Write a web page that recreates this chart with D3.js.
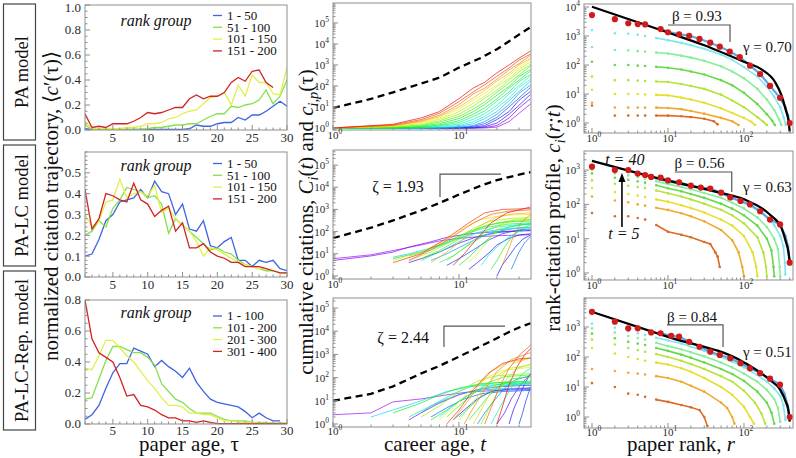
<!DOCTYPE html>
<html><head><meta charset="utf-8">
<script src="https://cdn.jsdelivr.net/npm/d3@7/dist/d3.min.js"></script>
<style>
body{margin:0;background:#fff;}
svg{display:block;background:#fff;}
text{font-family:"Liberation Serif","Times New Roman",Times,serif;}
</style></head><body>
<script>
// ================= DATA =================
// ---- left column: normalized citation trajectory vs paper age ----
const tau = [1,2,3,4,5,6,7,8,9,10,11,12,13,14,15,16,17,18,19,20,21,22,23,24,25,26,27,28,29,30];
const leftXTicks = [5,10,15,20,25,30];
const leftYTicks1 = [0,0.2,0.4,0.6,0.8,1.0];
const leftYTicks2 = [0,0.1,0.2,0.3,0.4,0.5];
const leftYTicks3 = [0,0.2,0.4,0.6,0.8];

const legendPA  = ["1 - 50","51 - 100","101 - 150","151 - 200"];
const legendLC  = ["1 - 50","51 - 100","101 - 150","151 - 200"];
const legendRep = ["1 - 100","101 - 200","201 - 300","301 - 400"];

const paBlue   = [0.01,0.005,0.005,0.005,0.005,0.005,0.005,0.005,0.005,0.005,0.005,0.005,0.005,0.005,0.005,0.01,0.04,0.03,0.03,0.05,0.06,0.06,0.10,0.08,0.12,0.12,0.15,0.19,0.23,0.19];
const paGreen  = [0.04,0.005,0.005,0.005,0.005,0.005,0.005,0.005,0.005,0.01,0.02,0.02,0.03,0.04,0.04,0.05,0.05,0.08,0.11,0.13,0.13,0.19,0.18,0.20,0.21,0.24,0.32,0.21,0.27,0.40];
const paYellow = [0.07,0.01,0.01,0.01,0.01,0.01,0.02,0.02,0.03,0.05,0.05,0.06,0.09,0.10,0.13,0.15,0.16,0.21,0.26,0.27,0.30,0.20,0.36,0.27,0.44,0.38,0.38,0.29,0.28,0.50];
const paRed    = [0.13,0.02,0.03,0.02,0.05,0.05,0.05,0.07,0.10,0.14,0.13,0.14,0.16,0.18,0.18,0.25,0.28,0.25,0.27,0.27,0.30,0.38,0.42,0.39,0.47,0.48,0.38,0.34];

const lcBlue   = [0.10,0.11,0.18,0.27,0.30,0.36,0.37,0.38,0.42,0.38,0.46,0.41,0.40,0.30,0.35,0.23,0.22,0.27,0.15,0.14,0.17,0.19,0.08,0.08,0.05,0.08,0.07,0.08,0.04,0.03];
const lcGreen  = [0.20,0.22,0.27,0.24,0.33,0.37,0.43,0.42,0.41,0.38,0.39,0.35,0.21,0.28,0.25,0.22,0.19,0.16,0.13,0.14,0.12,0.11,0.08,0.06,0.05,0.04,0.03,0.03,0.02,0.02];
const lcYellow = [0.30,0.24,0.27,0.36,0.37,0.47,0.38,0.40,0.41,0.39,0.44,0.31,0.33,0.28,0.25,0.22,0.17,0.10,0.14,0.13,0.11,0.09,0.07,0.06,0.05,0.04,0.04,0.03,0.02,0.02];
const lcRed    = [0.42,0.23,0.28,0.40,0.39,0.37,0.36,0.45,0.37,0.35,0.29,0.32,0.34,0.22,0.26,0.14,0.14,0.16,0.12,0.10,0.09,0.07,0.07,0.05,0.05,0.05,0.04,0.03,0.02,0.02];

const repBlue   = [0.03,0.06,0.12,0.23,0.33,0.39,0.39,0.49,0.47,0.45,0.37,0.41,0.37,0.34,0.30,0.36,0.27,0.21,0.16,0.14,0.13,0.12,0.11,0.08,0.04,0.07,0.04,0.02,0.02];
const repGreen  = [0.16,0.17,0.29,0.41,0.50,0.50,0.48,0.46,0.46,0.43,0.38,0.26,0.21,0.16,0.14,0.10,0.07,0.07,0.07,0.05,0.03,0.02,0.02,0.02,0.01,0.01,0.01,0.005,0.005,0.005];
const repYellow = [0.36,0.35,0.44,0.54,0.54,0.49,0.44,0.40,0.34,0.28,0.23,0.17,0.12,0.12,0.11,0.07,0.07,0.06,0.06,0.04,0.02,0.02,0.01,0.01,0.01,0.005,0.005,0.005,0.005,0.005];
const repRed    = [0.80,0.55,0.46,0.43,0.40,0.30,0.18,0.19,0.12,0.11,0.09,0.06,0.04,0.04,0.02,0.02,0.01,0.02,0.01,0.003,0.003,0.003,0.003,0.003,0.003,0.003,0.003,0.003,0.003,0.003];

// ---- middle column: cumulative citations vs career age ----
const midXTicks = [1,10];
const midYExp1 = [0,1,2,3,4,5];
const careerT = [1,2,3,5,7,10,15,20,25,30,37];
const paMean  = [9,24,50,130,250,750,2200,5600,13500,28000,63000];
const lcMean  = [51,150,320,900,1950,4700,12000,21000,29000,37000,48000];
const repMean = [10,20,42,150,320,800,2300,5000,9300,14500,22000];

// PA model trajectories c_{i,p}(t) sampled at these career ages
const paTrajT = [1,3,5,7,10,13,16,20,25,30,37];
const paTraj = [
 [1,1,1,1,1,1,1,1.1,2,5,14],
 [1,1,1,1,1,1,1.05,1.3,3,9,25],
 [1,1,1,1,1,1,1.15,1.7,4.5,12,40],
 [1,1,1,1,1,1.1,1.3,2.5,6,21,55],
 [1,1,1,1,1,1.2,1.6,3.2,10,27,85],
 [1,1,1,1,1.1,1.3,2,4.5,13,45,110],
 [1,1,1,1,1.2,1.6,2.8,6,20,55,170],
 [1,1,1,1.1,1.3,2,3.5,9,26,85,210],
 [1,1,1,1.2,1.5,2.6,4.8,12,42,105,300],
 [1,1,1.1,1.3,1.8,3.5,6.5,19,52,160,360],
 [1,1,1.1,1.4,2.2,4.5,9,24,80,190,520],
 [1,1,1.2,1.6,2.8,6,13,36,95,280,620],
 [1,1.1,1.3,1.9,3.5,8,17,50,140,330,900],
 [1,1.1,1.4,2.2,4.5,11,26,62,190,470,1050],
 [1,1.2,1.6,2.6,6,15,32,95,230,600,1450],
 [1,1.2,1.8,3,8,21,45,115,330,720,1900],
 [1,1.3,2,3.5,10,27,62,170,400,1000,2100],
 [1,1.3,2.2,4,13,42,78,210,580,1150,2900],
 [1,1.4,2.5,5,18,52,115,290,720,1700,3300],
 [1,1.5,3,6,25,80,150,420,1000,2100,4600]
];
// PA-LC model trajectories: [career age, citations]
const lcTraj = [
 [[1,6],[2,9],[3,14],[5,25],[7,38],[10,50],[15,60],[20,65],[30,70],[37,72]],
 [[1,5],[2,8],[3,12],[4,20],[6,35],[8,55],[12,80],[20,100],[37,110]],
 [[4,4],[5,6],[7,12],[10,30],[14,60],[20,90],[30,110],[37,115]],
 [[12,2],[14,4],[17,10],[20,25],[25,50],[30,70],[37,80]],
 [[20,1],[22,3],[25,8],[28,20],[32,45],[37,70]],
 [[8,3],[10,6],[13,15],[17,40],[22,80],[30,120],[37,130]],
 [[26,2],[28,5],[30,12],[33,30],[37,60]],
 [[6,5],[8,10],[11,25],[15,60],[20,100],[28,140],[37,150]],
 [[3,7],[4,10],[6,18],[9,40],[13,80],[20,120],[30,150],[37,160]],
 [[15,3],[17,8],[20,20],[24,50],[30,100],[37,130]],
 [[5,5],[7,12],[10,35],[14,90],[20,160],[30,210],[37,220]],
 [[7,4],[9,8],[12,25],[16,70],[22,140],[30,200],[37,220]],
 [[4,8],[6,15],[9,40],[12,90],[17,160],[25,220],[37,250]],
 [[10,3],[12,7],[15,25],[19,80],[25,160],[37,230]],
 [[3,6],[5,12],[8,35],[12,100],[17,200],[25,280],[37,300]],
 [[18,2],[20,5],[23,20],[27,70],[32,150],[37,200]],
 [[5,6],[7,14],[10,45],[14,130],[20,250],[28,330],[37,350]],
 [[8,5],[10,12],[13,40],[17,120],[23,250],[37,350]],
 [[4,5],[6,12],[9,40],[13,140],[18,300],[26,400],[37,420]],
 [[12,4],[14,10],[17,40],[21,150],[27,350],[37,450]],
 [[3,5],[5,12],[8,45],[11,150],[15,350],[22,550],[37,600]],
 [[6,4],[8,12],[11,50],[15,200],[20,450],[28,650],[37,700]],
 [[22,3],[24,10],[27,60],[31,250],[37,600]],
 [[4,5],[6,15],[9,60],[13,250],[18,600],[25,850],[37,950]],
 [[3,4],[5,10],[8,50],[12,250],[16,700],[22,1000],[37,1100]],
 [[9,3],[11,10],[14,50],[18,250],[24,700],[37,1300]]
];
// PA-LC-Rep. model trajectories: [career age, citations]
const repTraj = [
 [[1,2.5],[2,3],[3,9],[5,12],[8,18],[12,24],[20,28],[30,30],[37,31]],
 [[4,1.5],[5,3],[7,8],[10,18],[14,30],[20,40],[30,45],[37,46]],
 [[20,1],[23,3],[26,12],[30,40],[34,90],[37,140]],
 [[25,1],[27,4],[30,15],[33,50],[37,150]],
 [[9,1.5],[11,4],[14,12],[18,25],[25,32],[37,35]],
 [[30,1],[32,3],[34,10],[37,40]],
 [[6,2],[8,5],[11,12],[15,20],[22,25],[37,28]],
 [[14,1],[16,3],[19,10],[23,35],[28,80],[37,120]],
 [[5,3],[6,6],[8,12],[11,22],[16,30],[25,34],[37,36]],
 [[2,2],[3,4],[5,10],[8,25],[12,40],[20,50],[37,55]],
 [[7,2],[9,6],[12,18],[16,35],[22,45],[37,50]],
 [[18,1],[20,3],[23,12],[27,50],[32,150],[37,250]],
 [[4,2],[6,6],[9,20],[13,45],[20,60],[37,65]],
 [[10,2],[12,5],[15,15],[19,35],[26,50],[37,55]],
 [[6,1.5],[8,4],[11,14],[15,35],[22,55],[37,60]],
 [[3,3],[5,8],[7,18],[10,35],[15,55],[25,65],[37,70]],
 [[12,1.5],[14,4],[17,15],[21,45],[27,90],[37,110]],
 [[8,2],[10,6],[13,20],[17,60],[23,110],[37,130]],
 [[15,1],[17,4],[20,20],[24,90],[29,250],[37,380]],
 [[5,2],[7,6],[10,25],[14,70],[20,120],[37,150]],
 [[10,1.5],[12,5],[15,25],[19,100],[25,250],[37,350]],
 [[7,1.5],[9,5],[12,25],[16,90],[22,200],[37,280]],
 [[13,1],[15,4],[18,25],[22,130],[27,400],[37,700]],
 [[9,1.5],[11,6],[14,40],[18,180],[24,450],[37,700]],
 [[11,1],[13,5],[16,30],[20,180],[26,600],[37,1200]],
 [[16,1],[18,5],[21,40],[25,250],[30,900],[37,2500]],
 [[8,1],[10,4],[13,30],[17,150],[22,400],[30,650],[37,700]],
 [[20,1],[22,5],[25,50],[29,300],[33,900],[37,1800]]
];

// ---- right column: rank-citation profiles c_i(r;t), t = 5,10,...,40 ----
const rightXTicks = [1,10,100];
const profileT = [5,10,15,20,25,30,35,40];
// PA model
const paT5  = [[1,4],[2,1.8],[3,1.8],[4,1.8],[5,1.8],[7,1.8],[10,1.8],[15,1.7],[20,1.6],[30,1.4],[40,1.15],[45,0.9]];
const paT10 = [[1,5],[2,3.4],[3,3.4],[4,3.4],[5,3.4],[7,3.4],[10,3.3],[15,3],[20,2.6],[30,2.1],[50,1.5],[70,1.15],[85,0.85]];
const paT15 = [[1,14],[2,10],[3,10],[4,10],[5,9.6],[7,9.3],[10,9],[15,7.5],[20,6.5],[30,5],[50,3.2],[70,2.2],[100,1.5],[125,1.1],[140,0.85]];
const paT20 = [[1,40],[2,30],[3,30],[4,29],[5,28],[7,27],[10,26],[15,22],[20,19],[30,15],[50,9.5],[70,6],[100,3.5],[150,1.6],[180,1.1],[200,0.85]];
const paT25 = [[1,130],[2,100],[3,100],[4,95],[5,92],[7,87],[10,80],[15,70],[20,60],[30,47],[50,30],[70,20],[100,11],[150,4.5],[200,2],[235,1.2],[255,0.85]];
const paT30 = [[1,420],[2,330],[3,320],[4,300],[5,290],[7,270],[10,250],[15,210],[20,180],[30,140],[50,90],[70,60],[100,35],[150,15],[200,6.5],[250,2.8],[290,1.3],[310,0.85]];
const paT35 = [[1,1600],[2,1250],[3,1200],[4,1100],[5,1000],[7,850],[10,720],[15,580],[20,480],[30,360],[50,230],[70,150],[100,85],[150,40],[200,18],[250,8],[300,3.5],[335,1.5],[355,0.85]];
const paT40 = [[1,5300],[2,3800],[3,2750],[4,2570],[5,2510],[8,1740],[10,1400],[14,1150],[19,1020],[26,800],[36,590],[48,430],[65,290],[88,186],[120,95],[163,49],[220,19],[298,7.4],[350,3.5],[380,1.8],[400,0.9]];
const paDotR = [1,2,3,4,5,8,10,14,19,26,36,48,65,88,120,163,220,298,400];
const paDotC = [5250,3800,2750,2570,2510,1740,1350,1150,1020,795,590,427,288,186,95,49,19,7.4,1];
const paFitR = [1,10,30,100,174,256,310,355,385,400];
const paFitC = [10200,1320,480,129,68,26,9.3,2.8,1.2,0.5];
// PA-LC model
const lcT5  = [[1,56],[2,45],[3,45],[4,40],[5,36],[7,25],[10,16],[15,13],[20,11],[30,8],[36,7],[42,4],[45,3],[48,1.5]];
const lcT10 = [[1,170],[2,130],[3,115],[4,100],[5,92],[7,80],[10,69],[15,55],[20,45],[30,32],[50,18],[70,9],[85,4],[95,1.5],[100,0.8]];
const lcT15 = [[1,300],[2,230],[3,200],[4,180],[5,165],[7,140],[10,120],[15,95],[20,78],[30,58],[50,36],[70,24],[100,12],[130,4],[145,1.5],[150,0.8]];
const lcT20 = [[1,500],[2,400],[3,350],[4,320],[5,300],[7,255],[10,210],[15,170],[20,140],[30,105],[50,70],[70,48],[100,28],[150,11],[180,4],[195,1.5],[200,0.8]];
const lcT25 = [[1,800],[2,600],[3,520],[4,470],[5,430],[7,360],[10,295],[15,240],[20,200],[30,155],[50,105],[70,75],[100,48],[150,24],[200,10],[230,4.5],[245,1.5],[250,0.8]];
const lcT30 = [[1,1000],[2,800],[3,700],[4,620],[5,560],[7,470],[10,390],[15,320],[20,275],[30,215],[50,155],[70,112],[100,76],[150,42],[200,22],[250,10],[280,5],[295,1.5],[300,0.8]];
const lcT35 = [[1,1150],[2,950],[3,880],[4,760],[5,680],[7,560],[10,440],[15,390],[20,330],[30,275],[50,205],[70,155],[100,110],[150,68],[200,42],[250,25],[300,12],[330,6],[345,2],[350,0.9]];
const lcT40 = [[1,1260],[2,1000],[3,1000],[4,790],[5,720],[6,630],[8,600],[10,500],[14,440],[20,350],[27,310],[36,290],[50,220],[66,160],[90,126],[120,100],[163,63],[220,36],[298,26],[350,12],[380,6],[400,2]];
const lcDotR = [1,2,3,4,5,6,8,10,14,20,27,36,50,66,90,120,163,220,298,400];
const lcDotC = [1260,1000,1000,790,720,630,600,500,440,350,310,290,220,160,126,100,63,36,26,2];
const lcFitR = [1,10,50,100,220,310,355,385,400];
const lcFitC = [1860,490,215,141,50,21,8.3,4,2];
// PA-LC-Rep. model
const repT5  = [[1,13.5],[2,10],[3,6],[4,5.5],[5,4.7],[7,3.8],[10,3.2],[15,2.5],[20,2.1],[26,1.7],[30,1],[33,0.5]];
const repT10 = [[1,40],[2,34],[3,30],[4,28],[5,26],[7,23],[10,20],[15,15],[20,11],[30,7],[50,3],[60,2],[70,1],[75,0.6]];
const repT15 = [[1,200],[2,130],[3,100],[4,85],[5,75],[7,65],[10,56],[15,42],[20,32],[30,20],[50,10],[70,5.5],[100,2.2],[120,1],[135,0.6]];
const repT20 = [[1,380],[2,260],[3,200],[4,170],[5,150],[7,125],[10,100],[15,75],[20,58],[30,40],[50,23],[70,15],[100,7.5],[140,3],[170,1.3],[190,0.6]];
const repT25 = [[1,600],[2,420],[3,320],[4,280],[5,250],[7,200],[10,160],[15,120],[20,95],[30,66],[50,40],[70,27],[100,16],[150,7],[200,3],[230,1.4],[250,0.6]];
const repT30 = [[1,900],[2,650],[3,500],[4,430],[5,380],[7,300],[10,230],[15,180],[20,145],[30,105],[50,65],[70,45],[100,28],[150,15],[200,8],[250,4],[280,2],[300,0.7]];
const repT35 = [[1,1300],[2,950],[3,720],[4,620],[5,540],[7,440],[10,355],[15,280],[20,220],[30,160],[50,100],[70,70],[100,45],[150,25],[200,15],[250,9],[300,5],[330,2.5],[350,0.8]];
const repT40 = [[1,3200],[2,1500],[3,900],[4,900],[6,660],[8,620],[11,510],[14,480],[19,320],[26,220],[36,150],[48,117],[66,91],[90,62],[120,42],[163,29],[220,19],[298,12],[340,6],[375,2.5],[400,0.9]];
const repDotR = [1,2,3,4,6,8,11,14,19,26,36,48,66,90,120,163,220,298,400];
const repDotC = [3200,1500,900,900,660,620,510,480,320,220,150,117,91,62,42,29,19,12,1];
const repFitR = [1,10,100,220,300,355,385,400];
const repFitC = [3200,470,66,17,8,3.2,1.6,0.7];

// ================= DRAWING =================
const svg = d3.select("body").append("svg").attr("width",796).attr("height",458);
const FRAME = "#8f8f8f", LBL = "#2b2b2b";
let clipN = 0;
function clipRect(x0,y0,x1,y1){
  const id = "clip"+(clipN++);
  svg.append("clipPath").attr("id",id).append("rect").attr("x",x0).attr("y",y0).attr("width",x1-x0).attr("height",y1-y0);
  return "url(#"+id+")";
}
function drawFrame(x0,y0,x1,y1){
  svg.append("rect").attr("x",x0).attr("y",y0).attr("width",x1-x0).attr("height",y1-y0)
    .attr("fill","none").attr("stroke",FRAME).attr("stroke-width",1);
}
function tick(x1,y1,x2,y2){
  svg.append("line").attr("x1",x1).attr("y1",y1).attr("x2",x2).attr("y2",y2).attr("stroke",FRAME).attr("stroke-width",1);
}
function rich(sel, parts, size){
  let down = false;
  parts.forEach(([s,st])=>{
    const ts = sel.append("tspan").text(s);
    st = st||"";
    if (st.includes("i")) ts.attr("font-style","italic");
    if (st.includes("s")) { ts.attr("font-size", size*0.68); if(!down){ts.attr("dy", size*0.22); down=true;} }
    else if (down) { ts.attr("dy", -size*0.22); down=false; }
  });
}
function powLabel(x,y,exp,anchor,size){
  const t = svg.append("text").attr("x",x).attr("y",y).attr("text-anchor",anchor)
    .attr("font-size",size).attr("fill",LBL);
  t.append("tspan").text("10");
  t.append("tspan").attr("dy",-size*0.42).attr("font-size",size*0.68).text(exp);
}
function logMinor(dom){
  const out=[]; const lo=Math.floor(Math.log10(dom[0])), hi=Math.ceil(Math.log10(dom[1]));
  for(let d=lo; d<=hi; d++) for(let k=1;k<=9;k++){ const v=k*Math.pow(10,d); if(v>=dom[0]&&v<=dom[1]) out.push({v, major:k===1}); }
  return out;
}

// ---------- row labels ----------
const rowBoxes = [[4,140,"PA model"],[145,266,"PA-LC model"],[271,430,"PA-LC-Rep. model"]];
rowBoxes.forEach(([a,b,lab])=>{
  svg.append("rect").attr("x",3.5).attr("y",a).attr("width",32).attr("height",b-a).attr("fill","none").attr("stroke","#444").attr("stroke-width",1.2);
  svg.append("text").attr("transform",`translate(28,${(a+b)/2}) rotate(-90)`).attr("text-anchor","middle")
    .attr("font-size",18.5).attr("fill","#111").text(lab);
});

// ---------- left column ----------
const groupColors = ["#3f63e2","#86e04e","#e3ef48","#d42121"];
const leftCfg = [
  {y0:5,  y1:130, ymax:1.0, yt:leftYTicks1, minor:0.05, series:[paBlue,paGreen,paYellow,paRed], legend:legendPA, legY:15.5, titleY:26, xl:12},
  {y0:152,y1:277, ymax:0.6, yt:leftYTicks2, minor:0.02, series:[lcBlue,lcGreen,lcYellow,lcRed], legend:legendLC, legY:163.5, titleY:171, xl:12},
  {y0:300,y1:424, ymax:0.8, yt:leftYTicks3, minor:0.05, series:[repBlue,repGreen,repYellow,repRed], legend:legendRep, legY:316, titleY:318, xl:11}
];
leftCfg.forEach(c=>{
  const x = d3.scaleLinear().domain([1,30]).range([85,287]);
  const y = d3.scaleLinear().domain([0,c.ymax]).range([c.y1,c.y0]);
  const g = svg.append("g").attr("clip-path", clipRect(85,c.y0,287,c.y1+1));
  const line = d3.line().x((d,i)=>x(tau[i])).y(d=>y(d));
  c.series.forEach((s,k)=>{
    g.append("path").attr("d",line(s)).attr("fill","none").attr("stroke",groupColors[k]).attr("stroke-width",1.3);
  });
  drawFrame(85,c.y0,287,c.y1);
  tau.forEach(v=>{ const big = leftXTicks.includes(v); tick(x(v),c.y1,x(v),c.y1-(big?5:2.5)); });
  leftXTicks.forEach(v=>{
    svg.append("text").attr("x",x(v)).attr("y",c.y1+c.xl).attr("text-anchor","middle").attr("font-size",13).attr("fill",LBL).text(v);
  });
  d3.range(0,c.ymax+1e-9,c.minor).forEach(v=>{
    const big = c.yt.some(t=>Math.abs(t-v)<1e-9);
    tick(85,y(v),85+(big?5:2.5),y(v));
  });
  c.yt.forEach(v=>{
    svg.append("text").attr("x",81).attr("y",Math.max(y(v)+4.4,12)).attr("text-anchor","end").attr("font-size",13).attr("fill",LBL).text(d3.format(".1f")(v));
  });
  // legend
  svg.append("text").attr("x",156).attr("y",c.titleY).attr("text-anchor","middle").attr("font-size",16)
    .attr("font-style","italic").attr("fill","#111").text("rank group");
  c.legend.forEach((lab,k)=>{
    const yy = c.legY + k*11.8;
    svg.append("line").attr("x1",213).attr("x2",222).attr("y1",yy).attr("y2",yy).attr("stroke",groupColors[k]).attr("stroke-width",1.3);
    svg.append("text").attr("x",227).attr("y",yy+4.3).attr("font-size",13).attr("fill","#111").text(lab);
  });
});

// ---------- middle column ----------
function trajColor(i,n){ return d3.hsl(280*(1-i/(n-1)), 0.88, 0.5).toString(); }
const midCfg = [
  {y0:3,  y1:130, ydom:[0.80,8.9e5], mean:paMean, traj:paTraj.map(row=>row.map((v,i)=>[paTrajT[i],v])), xl:8.5},
  {y0:150,y1:279, ydom:[0.73,4.8e5], mean:lcMean, traj:lcTraj, zeta:"ζ = 1.93", zt:[3.28,6000], br:[7.07,3600,39000,21.5], xl:8.5},
  {y0:298,y1:427, ydom:[0.74,2.7e5], mean:repMean, traj:repTraj, zeta:"ζ = 2.44", zt:[3.6,3100], br:[7.6,2100,16700,23.2], xl:7.5}
];
midCfg.forEach(c=>{
  const x = d3.scaleLog().domain([1,37.3]).range([333,531]);
  const y = d3.scaleLog().domain(c.ydom).range([c.y1,c.y0]);
  const g = svg.append("g").attr("clip-path", clipRect(333,c.y0,531,c.y1));
  const line = d3.line().x(d=>x(d[0])).y(d=>y(d[1]));
  const n = c.traj.length;
  c.traj.forEach((tr,i)=>{
    g.append("path").attr("d",line(tr)).attr("fill","none").attr("stroke",trajColor(i,n)).attr("stroke-width",0.75).attr("stroke-opacity",0.95);
  });
  g.append("path").attr("d",line(careerT.map((t,i)=>[t,c.mean[i]]))).attr("fill","none")
    .attr("stroke","#000").attr("stroke-width",2.3).attr("stroke-dasharray","7,4.5");
  drawFrame(333,c.y0,531,c.y1);
  logMinor([1,37.3]).forEach(o=>tick(x(o.v),c.y1,x(o.v),c.y1-(o.major?5:2.5)));
  logMinor(c.ydom).forEach(o=>tick(333,y(o.v),333+(o.major?5:2.5),y(o.v)));
  midXTicks.forEach((v,k)=>powLabel(x(v)-5.5,c.y1+c.xl,String(k),"start",11));
  midYExp1.forEach(e=>{ const v=Math.pow(10,e); if(v>=c.ydom[0]&&v<=c.ydom[1]) powLabel(329,y(v)+4,String(e),"end",11); });
  if (c.zeta){
    svg.append("text").attr("x",x(c.zt[0])).attr("y",y(c.zt[1])).attr("text-anchor","middle").attr("font-size",16).attr("fill","#111").text(c.zeta);
    svg.append("path").attr("d",`M${x(c.br[0])},${y(c.br[1])}V${y(c.br[2])}H${x(c.br[3])}`).attr("fill","none").attr("stroke","#555").attr("stroke-width",1.2);
  }
});

// ---------- right column ----------
const profColors = ["#dc6a24","#f0a92e","#e6de2c","#b6e23a","#66d84a","#86ee9a","#7de6ee","#5ea6e4"];
const rightCfg = [
  {y0:4,  y1:133, ydom:[0.452,12700], exps:[0,1,2,3,4], prof:[paT5,paT10,paT15,paT20,paT25,paT30,paT35,paT40], dr:paDotR, dc:paDotC, fr:paFitR, fc:paFitC,
   beta:"β = 0.93", bt:[24,3300], br:[10,65.5,2400,620], gamma:"γ = 0.70", gt:[97,280], xl:8.5},
  {y0:151,y1:280, ydom:[0.625,3600], exps:[0,1,2,3], prof:[lcT5,lcT10,lcT15,lcT20,lcT25,lcT30,lcT35,lcT40], dr:lcDotR, dc:lcDotC, fr:lcFitR, fc:lcFitC,
   beta:"β = 0.56", bt:[26,1150], br:[12.3,69,880,230], gamma:"γ = 0.63", gt:[97,230], arrow:true, xl:8.5},
  {y0:298,y1:428, ydom:[0.43,9260], exps:[0,1,2,3], prof:[repT5,repT10,repT15,repT20,repT25,repT30,repT35,repT40], dr:repDotR, dc:repDotC, fr:repFitR, fc:repFitC,
   beta:"β = 0.84", bt:[20.7,1470], br:[9.7,53,1170,215], gamma:"γ = 0.51", gt:[97,100], xl:7.5}
];
rightCfg.forEach(c=>{
  const x = d3.scaleLog().domain([0.785,441.6]).range([584,793]);
  const y = d3.scaleLog().domain(c.ydom).range([c.y1,c.y0]);
  const g = svg.append("g").attr("clip-path", clipRect(584,c.y0,793,c.y1));
  const line = d3.line().x(d=>x(d[0])).y(d=>y(d[1]));
  c.prof.forEach((pts,k)=>{
    g.append("path").attr("d",line(pts.filter(p=>p[0]>=7))).attr("fill","none").attr("stroke",profColors[k]).attr("stroke-width",k===7?2.2:1.6);
    g.selectAll(null).data(pts).enter().append("circle").attr("cx",d=>x(d[0])).attr("cy",d=>y(d[1])).attr("r",1.3).attr("fill",profColors[k]);
  });
  g.append("path").attr("d",d3.line().curve(d3.curveMonotoneX).x(d=>x(d[0])).y(d=>y(d[1]))(c.fr.map((r,i)=>[r,c.fc[i]])))
    .attr("fill","none").attr("stroke","#000").attr("stroke-width",2.3);
  g.selectAll(null).data(c.dr.map((r,i)=>[r,c.dc[i]])).enter().append("circle")
    .attr("cx",d=>x(d[0])).attr("cy",d=>y(d[1])).attr("r",3.1).attr("fill","#d21a1a");
  drawFrame(584,c.y0,793,c.y1);
  logMinor([0.785,441.6]).forEach(o=>tick(x(o.v),c.y1,x(o.v),c.y1-(o.major?5:2.5)));
  logMinor(c.ydom).forEach(o=>tick(584,y(o.v),584+(o.major?5:2.5),y(o.v)));
  rightXTicks.forEach((v,k)=>powLabel(x(v)-5.5,c.y1+c.xl,String(k),"start",11));
  c.exps.forEach(e=>powLabel(580,y(Math.pow(10,e))+4,String(e),"end",11));
  svg.append("text").attr("x",x(c.bt[0])).attr("y",y(c.bt[1])).attr("text-anchor","middle").attr("font-size",15).attr("fill","#111").text(c.beta);
  svg.append("path").attr("d",`M${x(c.br[0])},${y(c.br[2])}H${x(c.br[1])}V${y(c.br[3])}`).attr("fill","none").attr("stroke","#555").attr("stroke-width",1.2);
  svg.append("text").attr("x",x(c.gt[0])).attr("y",y(c.gt[1])).attr("font-size",15).attr("fill","#111").text(c.gamma);
  if (c.arrow){
    svg.append("text").attr("x",x(2.7)).attr("y",y(1400)).attr("text-anchor","middle").attr("font-size",16).attr("font-style","italic").attr("fill","#111").text("t = 40");
    svg.append("text").attr("x",x(2.63)).attr("y",y(9.8)).attr("text-anchor","middle").attr("font-size",16).attr("font-style","italic").attr("fill","#111").text("t = 5");
    const ax = x(2.48), ya = y(22), yb = y(820);
    svg.append("line").attr("x1",ax).attr("x2",ax).attr("y1",ya).attr("y2",yb+7).attr("stroke","#000").attr("stroke-width",1.6);
    svg.append("path").attr("d",`M${ax},${yb}L${ax-3.5},${yb+9}L${ax+3.5},${yb+9}Z`).attr("fill","#000");
  }
});

// ---------- axis titles ----------
function yTitle(xb,yc,parts){
  const t = svg.append("text").attr("transform",`translate(${xb},${yc}) rotate(-90)`).attr("text-anchor","middle").attr("font-size",21).attr("fill","#111");
  rich(t,parts,21);
}
yTitle(58,206,[["normalized citation trajectory, ⟨"],["c","i"],["′(τ)⟩"]]);
yTitle(313,222,[["cumulative citations, "],["C","i"],["i","si"],["("],["t","i"],[") and "],["c","i"],["i,p","si"],["(τ)"]]);
yTitle(560,218,[["rank-citation profile, "],["c","i"],["i","si"],["("],["r;t","i"],[")"]]);
function xTitle(xc,parts){
  const t = svg.append("text").attr("x",xc).attr("y",451).attr("text-anchor","middle").attr("font-size",21).attr("fill","#111");
  rich(t,parts,21);
}
xTitle(189,[["paper age, τ"]]);
xTitle(435,[["career age, "],["t","i"]]);
xTitle(681,[["paper rank, "],["r","i"]]);
</script>
</body></html>
